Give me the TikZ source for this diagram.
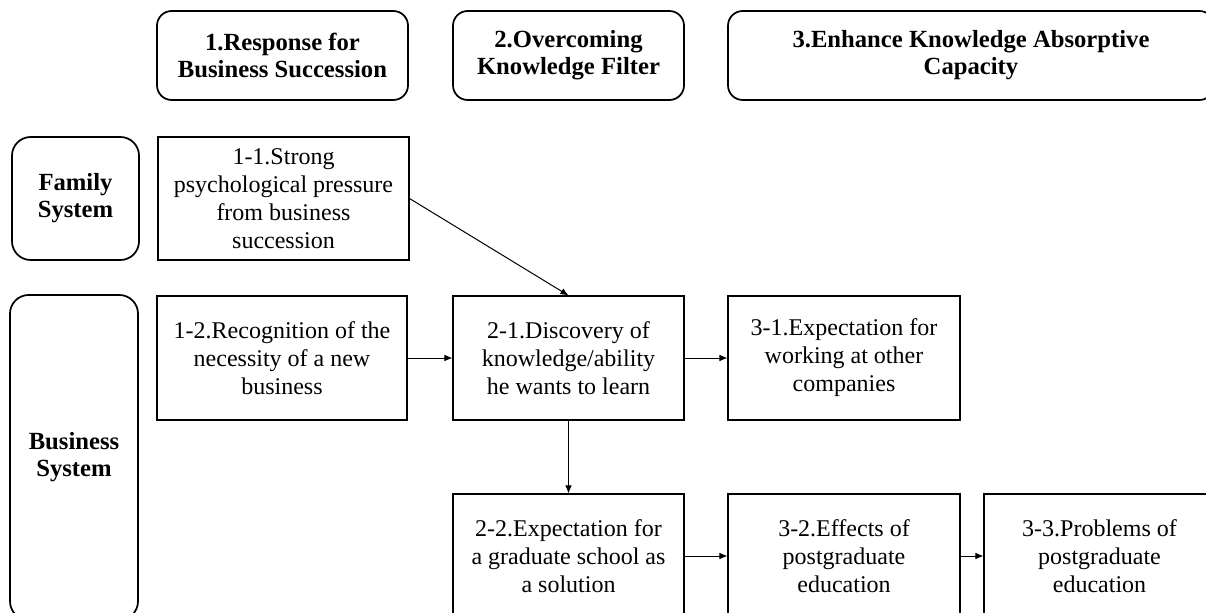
\documentclass[tikz,border=0pt]{standalone}
\usepackage{fontspec}
\setmainfont{Liberation Serif}
\usetikzlibrary{arrows.meta}
\begin{document}
\begin{tikzpicture}[x=0.75pt,y=-0.75pt,
  hdr/.style={draw, line width=1.3pt, rounded corners=11pt, align=center, inner sep=0pt,
    font=\fontsize{18.5}{20.3}\selectfont\bfseries, minimum height=66.75pt},
  sysbox/.style={draw, line width=1.3pt, rounded corners=14pt, align=center, inner sep=0pt,
    font=\fontsize{18.5}{20.3}\selectfont\bfseries},
  itembox/.style={draw, line width=0.8pt, align=center, inner sep=0pt,
    font=\fontsize{18}{21}\selectfont, minimum height=93pt},
  conn/.style={line width=0.75pt, -{Latex[length=6pt,width=5pt]}}
]
\clip (0,0) rectangle (1206,613);
\fill[white] (0,0) rectangle (1206,613);

\node[hdr, minimum width=188.25pt] (h1) at (282.5,55.5) {1.Response for\\Business Succession};
\node[hdr, minimum width=173.25pt] (h2) at (568.5,55.5) {2.Overcoming\\Knowledge Filter};
\node[hdr, minimum width=364.5pt] (h3) at (971,55.5) {3.Enhance Knowledge Absorptive\\Capacity};

\node[sysbox, minimum width=95.25pt, minimum height=92.25pt] (fam) at (75.5,198.5) {Family\\System};
\node[sysbox, minimum width=96pt, minimum height=243.75pt] (bus) at (74,457.5) {Business\\System};

\node[itembox, minimum width=188.25pt, minimum height=92.25pt] (b11) at (283.5,198.5) {1-1.Strong\\psychological pressure\\from business\\succession};
\node[itembox, minimum width=187.5pt] (b12) at (282,358) {1-2.Recognition of the\\necessity of a new\\business};
\node[itembox, minimum width=173.25pt] (b21) at (568.5,358) {2-1.Discovery of\\knowledge/ability\\he wants to learn};
\node[itembox, minimum width=174pt] (b31) at (844,358) {3-1.Expectation for\\working at other\\companies};
\node[itembox, minimum width=173.25pt] (b22) at (568.5,556) {2-2.Expectation for\\a graduate school as\\a solution};
\node[itembox, minimum width=174pt] (b32) at (844,556) {3-2.Effects of\\postgraduate\\education};
\node[itembox, minimum width=173.25pt] (b33) at (1099.5,556) {3-3.Problems of\\postgraduate\\education};

\draw[conn] (b11.east) -- (b21.north);
\draw[conn] (b12) -- (b21);
\draw[conn] (b21) -- (b31);
\draw[conn] (b21) -- (b22);
\draw[conn] (b22) -- (b32);
\draw[conn] (b32) -- (b33);
\end{tikzpicture}
\end{document}
